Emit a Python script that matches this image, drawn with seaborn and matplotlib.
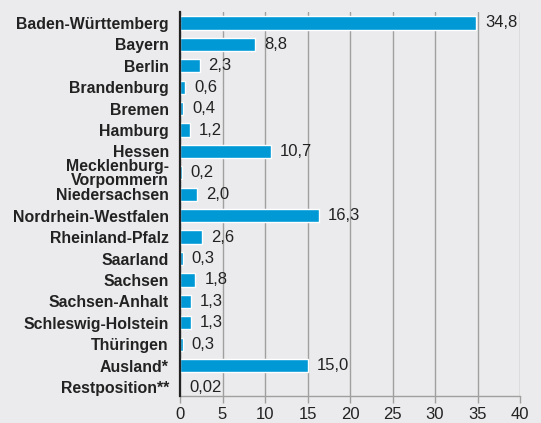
import matplotlib
matplotlib.use("Agg")
import matplotlib.pyplot as plt
import seaborn as sns
import pandas as pd

states = ["Baden-Württemberg", "Bayern", "Berlin", "Brandenburg", "Bremen", "Hamburg",
          "Hessen", "Mecklenburg-\nVorpommern", "Niedersachsen", "Nordrhein-Westfalen",
          "Rheinland-Pfalz", "Saarland", "Sachsen", "Sachsen-Anhalt", "Schleswig-Holstein",
          "Thüringen", "Ausland*", "Restposition**"]
values = [34.8, 8.8, 2.3, 0.6, 0.4, 1.2, 10.7, 0.2, 2.0, 16.3, 2.6, 0.3, 1.8, 1.3, 1.3, 0.3, 15.0, 0.02]
value_labels = ["34,8", "8,8", "2,3", "0,6", "0,4", "1,2", "10,7", "0,2", "2,0", "16,3",
                "2,6", "0,3", "1,8", "1,3", "1,3", "0,3", "15,0", "0,02"]
xticks = [0, 5, 10, 15, 20, 25, 30, 35, 40]

bg = "#ebebed"
sns.set_theme(style="white")
plt.rcParams["font.family"] = ["Liberation Sans", "DejaVu Sans"]

df = pd.DataFrame({"state": states, "value": values})

fig = plt.figure(figsize=(5.41, 4.23), dpi=100, facecolor=bg)
ax = fig.add_axes([180/541, 1-396/423, 340/541, 384/423])
ax.set_facecolor(bg)

sns.barplot(data=df, x="value", y="state", color="#0099d6", saturation=1,
            width=0.62, edgecolor="white", linewidth=1, ax=ax, zorder=3)

ax.set_xlim(0, 40)
ax.set_ylim(len(states) - 1 + 0.42, -0.51)
ax.set_xticks(xticks)
ax.set_xticklabels([str(t) for t in xticks], fontsize=12, color="#222222")
ax.grid(axis="x", color="#a0a0a0", linewidth=1, zorder=0)
ax.grid(axis="y", visible=False)
ax.set_xlabel("")
ax.set_ylabel("")

for lbl in ax.get_yticklabels():
    lbl.set_fontweight("bold")
    lbl.set_fontsize(11.4)
    lbl.set_color("#222222")
    lbl.set_linespacing(0.85)
ax.tick_params(axis="y", length=0, pad=8)
ax.tick_params(axis="x", length=5, color="#a0a0a0", width=1, pad=3, bottom=True)

for s in ["top", "right"]:
    ax.spines[s].set_visible(False)
ax.spines["bottom"].set_color("#a0a0a0")
ax.spines["bottom"].set_linewidth(1)
ax.spines["left"].set_color("#222222")
ax.spines["left"].set_linewidth(1.6)
ax.spines["left"].set_zorder(5)

ax.bar_label(ax.containers[0], labels=value_labels, padding=6.5, fontsize=12, color="#222222")

fig.savefig("out.png", dpi=100, facecolor=bg)
